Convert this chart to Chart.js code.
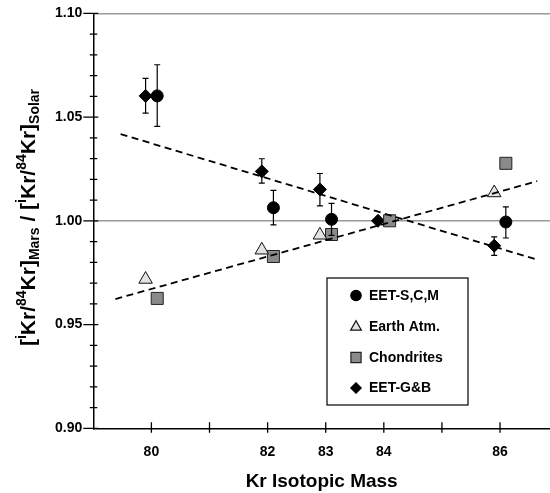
<!DOCTYPE html>
<html>
<head>
<meta charset="utf-8">
<script src="https://cdn.jsdelivr.net/npm/chart.js@4"></script>
<style>
  html, body { margin: 0; padding: 0; background: #fff; }
</style>
</head>
<body>
<canvas id="grafico" width="550" height="493"></canvas>
<script>
// EET-S,C,M (círculos, con barras de error)
var scmX = [80.1, 82.1, 83.1, 86.1];
var scmY = [1.0602, 1.0063, 1.0007, 0.9994];
var scmLo = [1.0455, 0.9980, 0.9930, 0.9917];
var scmHi = [1.0752, 1.0147, 1.0084, 1.0067];

// Earth Atm. (triángulos)
var atmX = [79.9, 81.9, 82.9, 85.9];
var atmY = [0.9718, 0.9859, 0.9931, 1.0135];

// Chondrites (cuadrados)
var chonX = [80.1, 82.1, 83.1, 84.1, 86.1];
var chonY = [0.9626, 0.9828, 0.9934, 1.0000, 1.0277];

// EET-G&B (rombos, con barras de error)
var gbX = [79.9, 81.9, 82.9, 83.9, 85.9];
var gbY = [1.0602, 1.0238, 1.0151, 1.0000, 0.9880];
var gbLo = [1.0519, 1.0182, 1.0072, null, 0.9833];
var gbHi = [1.0686, 1.0299, 1.0228, null, 0.9923];

// líneas de tendencia (extremos)
var bajaX = [79.47, 86.67];
var bajaY = [1.0418, 0.9810];
var subeX = [79.38, 86.64];
var subeY = [0.9623, 1.0191];

// etiquetas de los ejes
var xLabels = [80, 82, 83, 84, 86];
var yLabels = [0.90, 0.95, 1.00, 1.05, 1.10];

function pts(xs, ys) {
    return xs.map(function (x, i) { return { x: x, y: ys[i] }; });
}

var fuente = '"Liberation Sans", Arial, Helvetica, sans-serif';

// barras de error
var barrasError = {
    id: 'barrasError',
    afterDatasetsDraw: function (chart) {
        var ctx = chart.ctx;
        var yS = chart.scales.y;
        ctx.save();
        ctx.strokeStyle = '#000';
        ctx.lineWidth = 1.2;
        chart.data.datasets.forEach(function (ds, i) {
            if (!ds.errLo) return;
            var meta = chart.getDatasetMeta(i);
            meta.data.forEach(function (p, j) {
                if (ds.errLo[j] == null) return;
                var y1 = yS.getPixelForValue(ds.errLo[j]);
                var y2 = yS.getPixelForValue(ds.errHi[j]);
                ctx.beginPath();
                ctx.moveTo(p.x, y1); ctx.lineTo(p.x, y2);
                ctx.moveTo(p.x - 3, y1); ctx.lineTo(p.x + 3, y1);
                ctx.moveTo(p.x - 3, y2); ctx.lineTo(p.x + 3, y2);
                ctx.stroke();
            });
        });
        ctx.restore();
    }
};

// marcas de los ejes que cruzan la línea
var marcas = {
    id: 'marcas',
    afterDraw: function (chart) {
        var ctx = chart.ctx;
        var xS = chart.scales.x, yS = chart.scales.y;
        var a = chart.chartArea;
        ctx.save();
        ctx.strokeStyle = '#000';
        ctx.lineWidth = 1.3;
        ctx.beginPath();
        for (var k = 90; k <= 110; k++) {
            var py = yS.getPixelForValue(k / 100);
            var mayor = k % 5 === 0;
            ctx.moveTo(a.left - (mayor ? 10 : 3.5), py);
            ctx.lineTo(a.left + (mayor ? 5 : 4), py);
        }
        for (var m = 80; m <= 86; m++) {
            var px = xS.getPixelForValue(m);
            ctx.moveTo(px, a.bottom - 6);
            ctx.lineTo(px, a.bottom + 4.5);
        }
        ctx.stroke();
        ctx.restore();
    }
};

// título del eje y con superíndices y subíndices
var tituloY = {
    id: 'tituloY',
    afterDraw: function (chart) {
        var ctx = chart.ctx;
        var partes = [
            ['[', 0], ['i', 1], ['Kr/', 0], ['84', 1], ['Kr]', 0], ['Mars', 2],
            [' / [', 0], ['i', 1], ['Kr/', 0], ['84', 1], ['Kr]', 0], ['Solar', 2]
        ];
        var fGrande = 'bold 21px ' + fuente;
        var fChica = 'bold 14px ' + fuente;
        ctx.save();
        var total = 0;
        partes.forEach(function (p) {
            ctx.font = p[1] ? fChica : fGrande;
            total += ctx.measureText(p[0]).width;
        });
        ctx.translate(27, 217.5);
        ctx.rotate(-Math.PI / 2);
        ctx.fillStyle = '#000';
        ctx.textBaseline = 'alphabetic';
        var x = -total / 2;
        partes.forEach(function (p) {
            ctx.font = p[1] ? fChica : fGrande;
            var dy = p[1] === 1 ? -8.5 : (p[1] === 2 ? 4 : 0);
            ctx.fillText(p[0], x, 7.5 + dy);
            x += ctx.measureText(p[0]).width;
        });
        ctx.restore();
    }
};

// leyenda dentro del área
var leyenda = {
    id: 'leyenda',
    afterDraw: function (chart) {
        var ctx = chart.ctx;
        var x0 = 327, y0 = 278, w = 141, h = 127;
        ctx.save();
        ctx.fillStyle = '#fff';
        ctx.fillRect(x0, y0, w, h);
        ctx.strokeStyle = '#000';
        ctx.lineWidth = 1.2;
        ctx.strokeRect(x0, y0, w, h);
        var filas = [295.5, 327, 357.5, 388];
        var series = chart.data.datasets.filter(function (d) { return !d.esTendencia; });
        series.forEach(function (ds, i) {
            var cy = filas[i];
            ctx.fillStyle = ds.backgroundColor;
            ctx.strokeStyle = ds.borderColor;
            Chart.helpers.drawPoint(ctx, {
                pointStyle: ds.pointStyle,
                radius: ds.legendRadius,
                rotation: 0,
                borderWidth: ds.borderWidth
            }, 356, cy);
            ctx.fillStyle = '#000';
            ctx.font = 'bold 14px ' + fuente;
            ctx.textBaseline = 'middle';
            ctx.textAlign = 'left';
            ctx.fillText(ds.label, 369, cy + 0.5);
        });
        ctx.restore();
    }
};

var ctx1 = document.getElementById('grafico').getContext('2d');
var grafico = new Chart(ctx1, {
    type: 'scatter',
    data: {
        datasets: [{
            label: 'EET-S,C,M',
            data: pts(scmX, scmY),
            errLo: scmLo, errHi: scmHi,
            pointStyle: 'circle', pointRadius: 6, legendRadius: 5.2,
            backgroundColor: '#000', borderColor: '#000', borderWidth: 1,
            order: 1
        }, {
            label: 'Earth Atm.',
            data: pts(atmX, atmY),
            pointStyle: 'triangle', pointRadius: 7.8, legendRadius: 6.2,
            backgroundColor: '#e3e3e3', borderColor: '#111', borderWidth: 1,
            order: 1
        }, {
            label: 'Chondrites',
            data: pts(chonX, chonY),
            pointStyle: 'rect', pointRadius: 8.5, legendRadius: 7.2,
            backgroundColor: '#8a8a8a', borderColor: '#222', borderWidth: 1,
            order: 1
        }, {
            label: 'EET-G&B',
            data: pts(gbX, gbY),
            errLo: gbLo, errHi: gbHi,
            pointStyle: 'rectRot', pointRadius: 6.5, legendRadius: 5.2,
            backgroundColor: '#000', borderColor: '#000', borderWidth: 1,
            order: 1
        }, {
            type: 'line', esTendencia: true,
            data: pts(bajaX, bajaY),
            borderColor: '#000', borderWidth: 1.8, borderDash: [7, 4.5],
            pointRadius: 0, fill: false, order: 0
        }, {
            type: 'line', esTendencia: true,
            data: pts(subeX, subeY),
            borderColor: '#000', borderWidth: 1.8, borderDash: [7, 4.5],
            pointRadius: 0, fill: false, order: 0
        }]
    },
    options: {
        responsive: false,
        animation: false,
        devicePixelRatio: 1,
        layout: { autoPadding: false, padding: { top: 13.3, right: 0, left: 0, bottom: 0 } },
        plugins: {
            legend: { display: false },
            tooltip: { enabled: false }
        },
        scales: {
            x: {
                type: 'linear',
                min: 79, max: 86.86,
                afterFit: function (s) { s.height = 64.7; s.paddingLeft = 0; s.paddingRight = 0; },
                ticks: {
                    stepSize: 1, autoSkip: false, maxRotation: 0, padding: 15,
                    includeBounds: false,
                    color: '#000',
                    font: { family: fuente, size: 14, weight: 'bold' },
                    callback: function (v) { return xLabels.indexOf(Math.round(v * 100) / 100) >= 0 ? String(v) : ''; }
                },
                grid: { drawTicks: false, color: 'rgba(0,0,0,0)' },
                border: { color: '#000', width: 1.5 },
                title: {
                    display: true, text: 'Kr Isotopic Mass', color: '#000',
                    font: { family: fuente, size: 19, weight: 'bold' },
                    padding: { top: 0, bottom: 0 }
                }
            },
            y: {
                min: 0.9, max: 1.1,
                afterFit: function (s) { s.width = 93.3; s.paddingTop = 0; s.paddingBottom = 0; },
                ticks: {
                    stepSize: 0.01, autoSkip: false, padding: 11,
                    color: '#000',
                    font: { family: fuente, size: 14, weight: 'bold' },
                    callback: function (v) {
                        var r = Math.round(v * 100) / 100;
                        return yLabels.indexOf(r) >= 0 ? r.toFixed(2) : '';
                    }
                },
                grid: {
                    drawTicks: false, lineWidth: 1.6,
                    color: function (c) {
                        var k = Math.round(c.tick.value * 100);
                        return (k === 100 || k === 110) ? '#9a9a9a' : 'rgba(0,0,0,0)';
                    }
                },
                border: { color: '#000', width: 1.5 }
            }
        }
    },
    plugins: [barrasError, marcas, tituloY, leyenda]
});
</script>
</body>
</html>
